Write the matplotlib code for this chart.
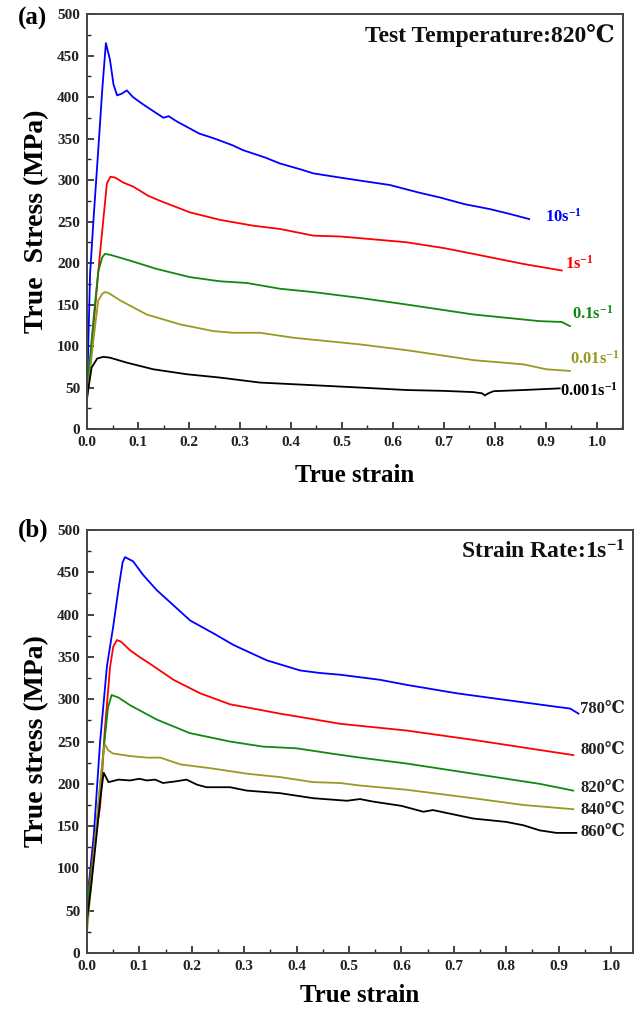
import matplotlib
matplotlib.use("Agg")
import matplotlib.pyplot as plt
from matplotlib.ticker import MultipleLocator

plt.rcParams['font.family'] = ['Liberation Serif', 'DejaVu Serif']
plt.rcParams['font.weight'] = 'bold'
plt.rcParams['mathtext.fontset'] = 'custom'
plt.rcParams['mathtext.rm'] = 'Liberation Serif:bold'
plt.rcParams['mathtext.it'] = 'Liberation Serif:bold'
plt.rcParams['mathtext.bf'] = 'Liberation Serif:bold'
plt.rcParams['mathtext.default'] = 'rm'

# ---------------- Panel (a): 820 C, different strain rates ----------------
strain_a_10 = [0.0, 0.006, 0.013, 0.022, 0.030, 0.037, 0.045, 0.052, 0.059, 0.068, 0.078, 0.090,
               0.108, 0.130, 0.150, 0.160, 0.175, 0.220, 0.250, 0.285, 0.306, 0.350, 0.378, 0.418,
               0.444, 0.496, 0.550, 0.594, 0.650, 0.692, 0.740, 0.790, 0.830, 0.867]
stress_a_10 = [40, 187, 255, 336, 410, 465, 445, 415, 402, 404, 408, 400,
               392, 383, 375, 377, 371, 356, 350, 342, 336, 327, 320, 313,
               308, 303, 298, 294, 285, 279, 271, 265, 259, 253]

strain_a_1 = [0.0, 0.013, 0.026, 0.039, 0.046, 0.055, 0.071, 0.091, 0.120, 0.143, 0.202, 0.261,
              0.326, 0.379, 0.444, 0.496, 0.535, 0.627, 0.700, 0.758, 0.855, 0.931]
stress_a_1 = [38, 127, 215, 296, 304, 303, 297, 292, 281, 275, 261, 252,
              245, 241, 233, 232, 230, 225, 218, 211, 199, 191]

strain_a_01 = [0.0, 0.013, 0.022, 0.030, 0.035, 0.045, 0.084, 0.136, 0.202, 0.261, 0.313, 0.379,
               0.444, 0.496, 0.535, 0.627, 0.758, 0.888, 0.931, 0.947]
stress_a_01 = [46, 134, 190, 207, 211, 210, 203, 193, 183, 178, 176, 169,
               165, 161, 158, 150, 138, 130, 129, 124]

strain_a_001 = [0.0, 0.013, 0.022, 0.030, 0.035, 0.042, 0.065, 0.117, 0.183, 0.248, 0.287, 0.339,
                0.405, 0.470, 0.535, 0.627, 0.758, 0.855, 0.901, 0.947]
stress_a_001 = [35, 110, 155, 163, 165, 164, 155, 138, 126, 118, 116, 116,
                110, 106, 102, 95, 83, 78, 72, 70]

strain_a_0001 = [0.0, 0.009, 0.020, 0.032, 0.045, 0.078, 0.130, 0.196, 0.261, 0.339, 0.405, 0.470,
                 0.535, 0.627, 0.700, 0.758, 0.775, 0.780, 0.787, 0.797, 0.855, 0.927]
stress_a_0001 = [38, 74, 85, 87, 86, 80, 72, 66, 62, 56, 54, 52,
                 50, 47, 46, 44.5, 43, 40.5, 43, 45.6, 47, 49]

labels_a = ['10s$^{-1}$', '1s$^{-1}$', '0.1s$^{-1}$', '0.01s$^{-1}$', '0.001s$^{-1}$']
label_pos_a = [(0.898, 256), (0.937, 199), (0.951, 139), (0.947, 85), (0.927, 46)]

# ---------------- Panel (b): 1 s^-1, different temperatures ----------------
strain_b_780 = [0.0, 0.013, 0.025, 0.038, 0.050, 0.060, 0.068, 0.0725, 0.088, 0.107, 0.133, 0.158,
                0.197, 0.241, 0.280, 0.343, 0.407, 0.445, 0.483, 0.559, 0.610, 0.706, 0.801,
                0.897, 0.922, 0.938]
stress_b_780 = [60, 140, 250, 339, 386, 430, 462, 468, 463, 447, 429, 415,
                393, 378, 364, 346, 334, 331, 329, 323, 317, 307, 299,
                291, 289, 283]

strain_b_800 = [0.0, 0.015, 0.025, 0.034, 0.044, 0.050, 0.057, 0.065, 0.082, 0.100, 0.120, 0.165,
                0.216, 0.273, 0.317, 0.368, 0.407, 0.445, 0.483, 0.610, 0.737, 0.864, 0.928]
stress_b_800 = [60, 134, 173, 264, 338, 362, 370, 368, 358, 350, 342, 323,
                307, 294, 289, 283, 279, 275, 271, 263, 252, 240, 234]

strain_b_820 = [0.0, 0.015, 0.030, 0.040, 0.047, 0.060, 0.082, 0.133, 0.196, 0.273, 0.336, 0.400,
                0.464, 0.521, 0.610, 0.737, 0.864, 0.928]
stress_b_820 = [55, 130, 230, 290, 305, 302, 293, 276, 260, 250, 244, 242,
                236, 231, 224, 212, 200, 192]

strain_b_840 = [0.0, 0.005, 0.015, 0.025, 0.032, 0.034, 0.040, 0.049, 0.080, 0.114, 0.140, 0.178,
                0.241, 0.305, 0.368, 0.432, 0.483, 0.521, 0.610, 0.737, 0.833, 0.928]
stress_b_840 = [25, 60, 130, 200, 240, 247, 240, 236, 233, 231, 231, 223,
                218, 212, 208, 202, 201, 198, 193, 183, 175, 170]

strain_b_860 = [0.0, 0.008, 0.015, 0.025, 0.030, 0.032, 0.036, 0.041, 0.060, 0.082, 0.100, 0.114,
                0.130, 0.145, 0.170, 0.190, 0.210, 0.228, 0.273, 0.305, 0.368, 0.432, 0.496,
                0.521, 0.546, 0.600, 0.642, 0.660, 0.737, 0.800, 0.833, 0.864, 0.896, 0.934]
stress_b_860 = [40, 80, 120, 180, 205, 213, 208, 202, 205, 204, 206, 204,
                205, 201, 203, 205, 199, 196, 196, 192, 189, 183, 180,
                182, 179, 174, 167, 169, 159, 155, 151, 145, 142, 142]

labels_b = ['780℃', '800℃', '820℃', '840℃', '860℃']
label_pos_b = [(0.941, 288), (0.941, 240), (0.941, 195), (0.941, 169), (0.941, 143)]

colors = ['#0000ff', '#ff0000', '#118811', '#999922', '#000000']

fig = plt.figure(figsize=(6.37, 10.10), dpi=100)
ax1 = fig.add_axes([0.1366, 0.5752, 0.9780 - 0.1366, 0.9861 - 0.5752])
ax2 = fig.add_axes([0.1366, 0.0564, 0.9937 - 0.1366, 0.4752 - 0.0564])

series_a = [(strain_a_10, stress_a_10), (strain_a_1, stress_a_1), (strain_a_01, stress_a_01),
            (strain_a_001, stress_a_001), (strain_a_0001, stress_a_0001)]
series_b = [(strain_b_780, stress_b_780), (strain_b_800, stress_b_800), (strain_b_820, stress_b_820),
            (strain_b_840, stress_b_840), (strain_b_860, stress_b_860)]

for (x, y), c in zip(series_a, colors):
    ax1.plot(x, y, color=c, lw=1.3)
for (x, y), c in zip(series_b, colors):
    ax2.plot(x, y, color=c, lw=1.3)

for (lbl, (px, py)), c in zip(zip(labels_a, label_pos_a), colors):
    ax1.text(px, py, lbl, color=c, fontsize=12, fontweight='bold', ha='left', va='center')
for lbl, (px, py) in zip(labels_b, label_pos_b):
    ax2.text(px, py, lbl, color='#222222', fontsize=12, fontweight='bold', ha='left', va='center')

ax1.set_xlim(0, 1.051)
ax2.set_xlim(0, 1.042)
for ax in (ax1, ax2):
    ax.set_ylim(0, 500)
    ax.xaxis.set_major_locator(MultipleLocator(0.1))
    ax.xaxis.set_minor_locator(MultipleLocator(0.05))
    ax.yaxis.set_major_locator(MultipleLocator(50))
    ax.yaxis.set_minor_locator(MultipleLocator(25))
    ax.xaxis.set_major_formatter(plt.FuncFormatter(lambda v, p: f"{v:.1f}"))
    ax.tick_params(which='both', direction='in', top=False, right=False, labelsize=11,
                   colors='#222222')
    ax.tick_params(which='major', length=5, width=1.2, pad=5)
    ax.tick_params(which='minor', length=3, width=1.0)
    for lab in ax.get_xticklabels() + ax.get_yticklabels():
        lab.set_fontweight('bold')
    for s in ax.spines.values():
        s.set_linewidth(1.4)
        s.set_color('#444444')

ax1.set_xlabel('True strain', fontsize=18, fontweight='bold', labelpad=11)
ax1.set_ylabel('True  Stress (MPa)', fontsize=20, fontweight='bold', labelpad=6)
ax2.set_xlabel('True strain', fontsize=18, fontweight='bold', labelpad=8)
ax2.set_ylabel('True stress (MPa)', fontsize=20, fontweight='bold', labelpad=6)

ax1.text(0.985, 0.975, 'Test Temperature:820℃', transform=ax1.transAxes, ha='right', va='top',
         fontsize=17, fontweight='bold', color='#111111')
ax2.text(0.985, 0.975, 'Strain Rate:1s$^{-1}$', transform=ax2.transAxes, ha='right', va='top',
         fontsize=17, fontweight='bold', color='#111111')

fig.text(18 / 637, 1 - 18 / 1010, '(a)', fontsize=18, fontweight='bold', ha='left', va='center')
fig.text(18 / 637, 1 - 530 / 1010, '(b)', fontsize=18, fontweight='bold', ha='left', va='center')

fig.savefig('out.png', dpi=100)
